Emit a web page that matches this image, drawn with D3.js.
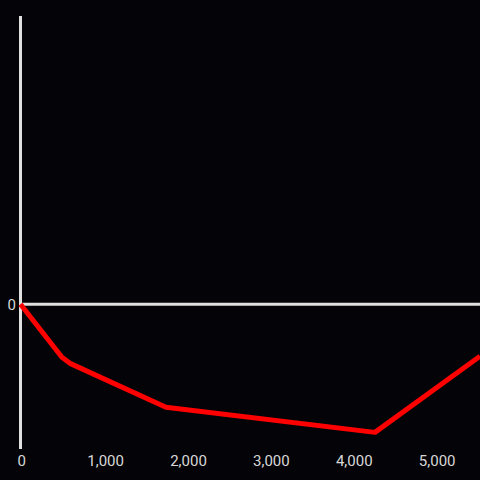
<!DOCTYPE html>
<html><head><meta charset="utf-8">
<script src="https://cdn.jsdelivr.net/npm/d3@7"></script>
<style>html,body{margin:0;padding:0;background:#040307;}svg{display:block;}</style>
</head><body>
<script>
const xValues = [0, 500, 597, 1755, 4276, 5543];
const yValues = [0, -0.366, -0.408, -0.712, -0.885, -0.359];
const xTicks = [0, 1000, 2000, 3000, 4000, 5000];
const yTicks = [0];

const W = 480, H = 480;
const svg = d3.select("body").append("svg").attr("width", W).attr("height", H);
svg.append("rect").attr("width", W).attr("height", H).attr("fill", "#040307");

const x = d3.scaleLinear().domain([0, 5543]).range([20.5, 480]);
const y = d3.scaleLinear().domain([-1, 2]).range([449, 15]);

// y axis line
svg.append("line").attr("x1", x(0)).attr("x2", x(0)).attr("y1", y(2)+1).attr("y2", y(-1))
  .attr("stroke", "#e0e0e0").attr("stroke-width", 3);
// zero line
svg.append("line").attr("x1", x(0)).attr("x2", 480).attr("y1", y(0)).attr("y2", y(0))
  .attr("stroke", "#e0e0e0").attr("stroke-width", 3);

const fmt = d3.format(",");
const font = "Roboto, 'Liberation Sans', sans-serif";
svg.selectAll("text.xt").data(xTicks).join("text").attr("class", "xt")
  .attr("x", d => x(d) + (d === 0 ? 1.2 : 2.2)).attr("y", 466)
  .attr("text-anchor", "middle").attr("fill", "#d8d8d8")
  .attr("font-family", font).attr("font-size", 15)
  .text(d => fmt(d));
svg.selectAll("text.yt").data(yTicks).join("text").attr("class", "yt")
  .attr("x", 16).attr("y", y(0)).attr("dy", "0.36em")
  .attr("text-anchor", "end").attr("fill", "#d8d8d8")
  .attr("font-family", font).attr("font-size", 15)
  .text(d => fmt(d));

const pts = xValues.map((v, i) => [v, yValues[i]]);
svg.append("path").datum(pts)
  .attr("d", d3.line().x(d => x(d[0])).y(d => y(d[1])))
  .attr("fill", "none").attr("stroke", "#ff0000").attr("stroke-width", 5)
  .attr("stroke-linejoin", "round").attr("stroke-linecap", "butt");
</script>
</body></html>
